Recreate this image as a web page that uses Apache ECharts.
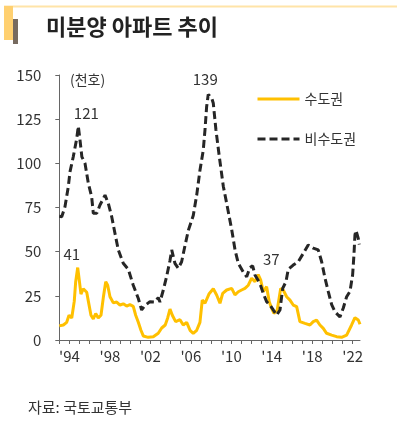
<!DOCTYPE html>
<html>
<head>
<meta charset="utf-8">
<script src="https://cdn.jsdelivr.net/npm/echarts@6.0.0/dist/echarts.min.js"></script>
<style>
html,body{margin:0;padding:0;background:#fff;}
#chart{width:414px;height:422px;}
</style>
</head>
<body>
<div id="chart"></div>
<script>
// ---- data ----
const metroYears = [1993.0,1993.4,1993.73,1993.96,1994.23,1994.48,1994.62,1994.82,1994.95,1995.14,1995.37,1995.71,1995.87,1996.13,1996.36,1996.6,1996.85,1997.12,1997.35,1997.59,1997.78,1998.01,1998.34,1998.67,1999.0,1999.32,1999.66,1999.98,2000.31,2000.55,2000.81,2001.07,2001.3,2001.79,2002.29,2002.78,2003.12,2003.47,2003.71,2003.94,2004.17,2004.5,2004.93,2005.25,2005.59,2005.92,2006.24,2006.58,2006.9,2007.13,2007.4,2007.79,2008.22,2008.55,2008.88,2009.15,2009.54,2010.04,2010.36,2010.69,2011.02,2011.35,2011.68,2012.01,2012.34,2012.66,2012.9,2013.16,2013.49,2013.75,2013.99,2014.22,2014.54,2014.88,2015.13,2015.47,2015.8,2016.12,2016.46,2016.78,2017.28,2017.77,2018.1,2018.43,2018.76,2019.09,2019.42,2019.92,2020.41,2020.9,2021.4,2021.89,2022.22,2022.55,2022.72];
const metroValues = [8,8.5,10,14,12.5,22,33,41,35,26,29,27,22,14,12,15,12.5,14,24,33,31,24.5,21,21.5,19.8,20.5,19.2,20,19,14,10,5.5,2.3,1.5,1.8,3.8,6.8,8.5,12.5,17.5,14,10.4,11.5,8.5,10,5.5,3.8,5.5,10,22.6,20.8,26,29,25.5,20.8,26.4,28.3,29.2,25.5,27.3,28.3,29.2,31,35,33,37,34,27.3,30.2,21.7,17.9,15,17,29.2,28.3,24.5,22.6,19.8,18.9,10.4,9.4,8.5,10.4,11.3,8.5,6.6,3.8,2.8,1.9,1.5,2.8,8.5,12.6,11.3,8.9];

const nonMetroYears = [1993.0,1993.24,1993.56,1993.89,1994.06,1994.38,1994.72,1994.88,1995.05,1995.23,1995.54,1995.87,1996.2,1996.36,1996.7,1997.02,1997.52,1997.84,1998.18,1998.5,1998.83,1999.32,1999.82,2000.31,2000.81,2001.14,2001.47,2001.96,2002.45,2002.78,2002.95,2003.28,2003.61,2003.94,2004.11,2004.43,2004.76,2005.09,2005.4,2005.75,2006.24,2006.58,2006.9,2007.23,2007.4,2007.56,2007.72,2008.06,2008.22,2008.48,2008.81,2009.21,2009.54,2010.04,2010.37,2010.69,2011.18,2011.52,2011.84,2012.11,2012.34,2012.83,2013.16,2013.49,2013.81,2014.15,2014.48,2014.81,2015.08,2015.4,2015.63,2016.12,2016.62,2017.11,2017.6,2018.1,2018.59,2018.93,2019.26,2019.58,2019.92,2020.25,2020.74,2021.06,2021.4,2021.73,2021.99,2022.12,2022.22,2022.32,2022.55,2022.65];
const nonMetroValues = [70,69.8,75.4,86.8,95.3,103.7,114,121,113,103.7,100,88.7,81,71.7,71.7,76.4,82,77.4,69.8,60.4,51,43.4,40,31,23.5,17,19.5,21.7,21.5,24,21.5,28.3,36,45,51,43.4,40.6,44.3,52.8,62,70.5,82,96,107.5,119,132,139,137,134,119,104,87,77.4,62.5,51,43.4,38.5,35.8,41,42,36.8,32,26.4,21.7,19.8,17,14.1,17,29.2,33,40,42.4,44.3,49,53.8,52,51,44.3,35,27.5,20,16,13,18,24.5,27.5,36.8,48,59.4,62,57.5,54];

const seriesNames = ['수도권', '비수도권'];
const metroLabelValues = [41, 37];
const nonMetroLabelValues = [121, 139];
const yearTicks = [1993,1994,1995,1996,1997,1998,1999,2000,2001,2002,2003,2004,2005,2006,2007,2008,2009,2010,2011,2012,2013,2014,2015,2016,2017,2018,2019,2020,2021,2022];
const labelYears = [1994,1998,2002,2006,2010,2014,2018,2022];
const labelTexts = ["'94","'98","'02","'06","'10","'14","'18","'22"];

// ---- build ----
const FONT = '"Noto Sans CJK KR", "Noto Sans", sans-serif';
const zip = (xs, ys) => xs.map((x, i) => [x, ys[i]]);
const metroData = zip(metroYears, metroValues);
const nonMetroData = zip(nonMetroYears, nonMetroValues);

function mark(xs, ys, v, offset) {
  const i = ys.indexOf(v);
  return {
    coord: [xs[i], ys[i]], value: v,
    label: { offset: offset }
  };
}
const labelStyle = {
  show: true, position: 'top', distance: 5,
  color: '#333', fontFamily: FONT, fontSize: 15,
  formatter: p => String(p.value)
};
const metroOffsets = [[-6, 0], [13, -2]];
const nonMetroOffsets = [[8, 0], [-3, -2]];

const chart = echarts.init(document.getElementById('chart'), null, {renderer: 'canvas'});
chart.setOption({
  animation: false,
  backgroundColor: '#fff',
  grid: { left: 59.3, right: 54, top: 75, bottom: 82 },
  legend: {
    orient: 'vertical', left: 251, top: 87,
    itemWidth: 42, itemHeight: 14, itemGap: 26,
    data: seriesNames,
    itemStyle: { opacity: 0 },
    lineStyle: { width: 3 },
    textStyle: { fontFamily: FONT, fontSize: 14, color: '#333' }
  },
  xAxis: {
    type: 'value', min: 1993, max: 2022.72,
    splitLine: { show: false },
    axisLine: { lineStyle: { color: '#666', width: 1 } },
    axisTick: { show: true, length: 4, lineStyle: { color: '#666' }, customValues: yearTicks },
    axisLabel: {
      customValues: labelYears,
      formatter: v => labelTexts[labelYears.indexOf(Math.round(v))] || '',
      margin: 9, fontFamily: FONT, fontSize: 15, color: '#333'
    }
  },
  yAxis: {
    type: 'value', min: 0, max: 150, interval: 25,
    splitLine: { show: false },
    axisLine: { show: true, lineStyle: { color: '#666', width: 1 } },
    axisTick: { show: true, length: 4, lineStyle: { color: '#666' } },
    axisLabel: { margin: 18, fontFamily: FONT, fontSize: 15, color: '#333' }
  },
  series: [
    {
      name: seriesNames[0], type: 'line', data: metroData,
      symbol: 'none', showSymbol: false,
      lineStyle: { color: '#FFC000', width: 3 },
      itemStyle: { color: '#FFC000' },
      z: 2,
      markPoint: {
        symbol: 'circle', symbolSize: 1,
        itemStyle: { color: 'rgba(0,0,0,0)' },
        label: labelStyle,
        data: metroLabelValues.map((v, k) => mark(metroYears, metroValues, v, metroOffsets[k]))
      }
    },
    {
      name: seriesNames[1], type: 'line', data: nonMetroData,
      symbol: 'none', showSymbol: false,
      lineStyle: { color: '#262626', width: 3, type: [8, 4] },
      itemStyle: { color: '#262626' },
      z: 3,
      markPoint: {
        symbol: 'circle', symbolSize: 1,
        itemStyle: { color: 'rgba(0,0,0,0)' },
        label: labelStyle,
        data: nonMetroLabelValues.map((v, k) => mark(nonMetroYears, nonMetroValues, v, nonMetroOffsets[k]))
      }
    }
  ],
  graphic: [
    { type: 'rect', shape: { x: 4, y: 5.5, width: 393, height: 2 }, style: { fill: '#FFE4A8' } },
    { type: 'rect', shape: { x: 4, y: 6, width: 9, height: 34 }, style: { fill: '#FFD070' } },
    { type: 'rect', shape: { x: 13, y: 19, width: 5, height: 25 }, style: { fill: '#776B60' } },
    { type: 'text', x: 46, y: 27, style: { text: '미분양 아파트 추이', font: 'bold 22px ' + FONT, fill: '#222', textVerticalAlign: 'middle' } },
    { type: 'text', x: 70, y: 80, style: { text: '(천호)', font: '14px ' + FONT, fill: '#333', textVerticalAlign: 'middle' } },
    { type: 'text', x: 28, y: 407, style: { text: '자료: 국토교통부', font: '15px ' + FONT, fill: '#333', textVerticalAlign: 'middle' } }
  ]
});
</script>
</body>
</html>
